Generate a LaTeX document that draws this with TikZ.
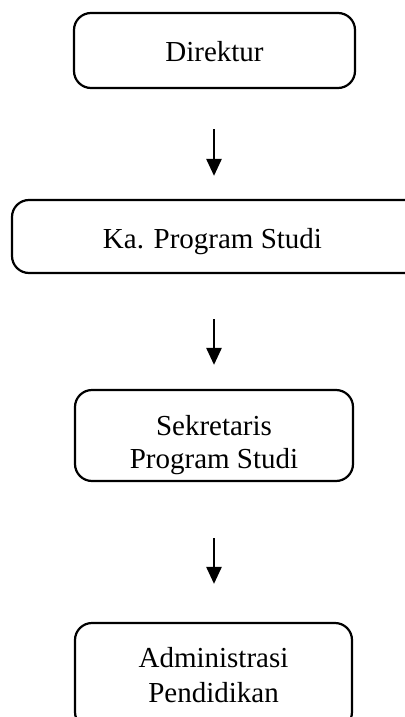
\documentclass[tikz,border=0pt]{standalone}
\usepackage{fontspec}
\setmainfont{Liberation Serif}
\usetikzlibrary{arrows.meta}
\begin{document}
\begin{tikzpicture}[x=1pt,y=-1pt,
  unit/.style={draw=black, line width=2.2pt, rounded corners=17pt, inner sep=0pt},
  lbl/.style={font=\fontsize{29}{33}\selectfont, inner sep=0pt, anchor=base},
  flow/.style={line width=2.6pt, -{Triangle[width=15pt,length=17pt]}}]
  \useasboundingbox (0,0) rectangle (404,717);
  % boxes of the organisation chart
  \node[unit, minimum width=281pt, minimum height=75pt] (dir) at (214.5,50.5) {};
  \node[unit, minimum width=430pt, minimum height=73pt] (kaprodi) at (227,236.5) {};
  \node[unit, minimum width=278pt, minimum height=91pt] (sekprodi) at (214,435.5) {};
  \node[unit, minimum width=277pt, minimum height=106pt] (admin) at (213.5,676) {};
  % labels
  \node[lbl] (tdir) at (214.5,62) {Direktur};
  \node[lbl] (tkaprodi) at (212.5,248) {Ka. Program Studi};
  \node[lbl] (tsek1) at (214,435) {Sekretaris};
  \node[lbl] (tsek2) at (214,468) {Program Studi};
  \node[lbl] (tadm1) at (213.5,667) {Administrasi};
  \node[lbl] (tadm2) at (213.5,702) {Pendidikan};
  % arrows between levels
  \draw[flow, shorten <=40pt, shorten >=23pt] (dir.south -| 214,0) -- (kaprodi.north -| 214,0);
  \draw[flow, shorten <=45pt, shorten >=24pt] (kaprodi.south -| 214,0) -- (sekprodi.north -| 214,0);
  \draw[flow, shorten <=56pt, shorten >=38pt] (sekprodi.south -| 214,0) -- (admin.north -| 214,0);
\end{tikzpicture}
\end{document}
